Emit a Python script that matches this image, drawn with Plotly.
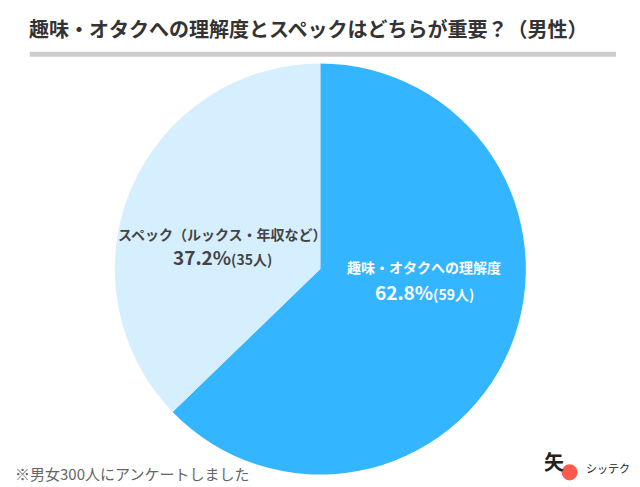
import plotly.graph_objects as go

labels = ["趣味・オタクへの理解度", "スペック（ルックス・年収など）"]
values = [59, 35]
pcts = ["62.8%", "37.2%"]
colors = ["#33b5ff", "#d6efff"]

F = "Noto Sans CJK JP"
fig = go.Figure(go.Pie(labels=labels, values=values, sort=False, direction="clockwise",
                       rotation=0, marker=dict(colors=colors, line=dict(width=0)),
                       textinfo="none", hoverinfo="label+percent",
                       domain=dict(x=[0.166, 0.81], y=[0.042, 0.886])))

ann = [
    dict(x=0.03, y=0.958, xanchor="left", yanchor="middle", text="<b>趣味・オタクへの理解度とスペックはどちらが重要？（男性）</b>",
         font=dict(size=20, color="#333333", family=F)),
    dict(x=0.65, y=0.468, xanchor="center", text=f"<b>{labels[0]}</b>", font=dict(size=14, color="white", family=F)),
    dict(x=0.65, y=0.418, xanchor="center", text=f"<b><span style='font-size:19px'>{pcts[0]}</span>({values[0]}人)</b>", font=dict(size=14, color="white", family=F)),
    dict(x=0.335, y=0.535, xanchor="center", text=f"<b>{labels[1]}</b>", font=dict(size=14, color="#444444", family=F)),
    dict(x=0.335, y=0.49, xanchor="center", text=f"<b><span style='font-size:19px'>{pcts[1]}</span>({values[1]}人)</b>", font=dict(size=14, color="#444444", family=F)),
    dict(x=0.008, y=0.018, xanchor="left", text="※男女300人にアンケートしました", font=dict(size=15, color="#666666", family=F)),
    dict(x=0.835, y=0.035, xanchor="left", text="<b>矢</b>", font=dict(size=20, color="#222222", family=F)),
    dict(x=0.9, y=0.035, xanchor="left", text="シッテク", font=dict(size=11, color="#222222", family=F)),
]
for a in ann:
    a.update(xref="paper", yref="paper", showarrow=False)

fig.update_layout(width=640, height=487, margin=dict(l=0, r=0, t=0, b=0),
                  paper_bgcolor="white", showlegend=False, annotations=ann,
                  shapes=[dict(type="rect", xref="paper", yref="paper", x0=0.034, x1=0.95,
                               y0=0.9, y1=0.91, fillcolor="#cccccc", line=dict(width=0)),
                          dict(type="circle", xref="paper", yref="paper", x0=0.865, x1=0.89,
                               y0=0.03, y1=0.063, fillcolor="#ff5a4e", line=dict(width=0))])
fig.write_html("out.html")
